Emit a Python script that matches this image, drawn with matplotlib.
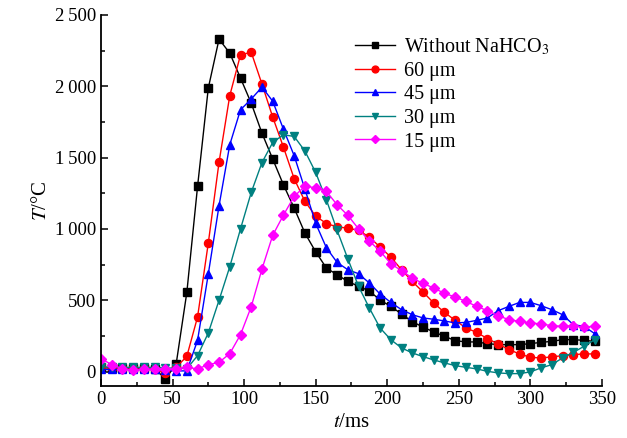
import matplotlib
matplotlib.use("Agg")
import matplotlib.pyplot as plt
import numpy as np
from matplotlib.ticker import MultipleLocator, FuncFormatter

plt.rcParams['font.family'] = ['Liberation Serif', 'DejaVu Serif']
plt.rcParams['mathtext.fontset'] = 'stix'

# time axis, ms (sampled every 7.5 ms)
t_ms = np.arange(47) * 7.5

T_none = [30, 25, 25, 25, 25, 20, -50, 50, 555, 1298, 1987, 2330, 2232, 2057, 1881, 1671,
          1490, 1309, 1146, 971, 840, 726, 679, 632, 598, 565, 502, 457, 404, 350, 312,
          278, 248, 217, 208, 208, 196, 189, 189, 189, 196, 205, 212, 224, 224, 219, 212]
T_60 = [30, 25, 25, 25, 25, 20, -10, 30, 107, 383, 901, 1467, 1934, 2220, 2238, 2015,
        1784, 1573, 1352, 1193, 1090, 1038, 1014, 1006, 990, 943, 873, 803, 714, 632, 558,
        481, 415, 359, 306, 275, 231, 194, 154, 124, 100, 96, 103, 112, 119, 124, 124]
T_45 = [15, 15, 15, 15, 15, 15, 10, 5, 5, 219, 684, 1162, 1590, 1835, 1910, 1994,
        1895, 1699, 1513, 1279, 1040, 868, 765, 714, 686, 621, 544, 485, 434, 399, 376,
        367, 355, 341, 345, 359, 376, 427, 457, 485, 485, 462, 434, 399, 329, 317, 266]
T_30 = [35, 30, 30, 30, 30, 30, 25, 25, 20, 112, 271, 500, 735, 1000, 1256, 1465,
        1606, 1660, 1648, 1546, 1396, 1204, 990, 790, 597, 446, 306, 224, 166, 131, 105,
        82, 61, 42, 30, 19, 2, -9, -14, -14, -2, 26, 49, 96, 135, 177, 224]
T_15 = [91, 49, 19, 10, 15, 15, 15, 19, 30, 19, 49, 65, 126, 259, 455, 719,
        955, 1097, 1228, 1300, 1288, 1263, 1169, 1095, 1000, 915, 845, 756, 707, 656, 618,
        586, 548, 523, 492, 457, 427, 392, 364, 352, 341, 334, 322, 317, 322, 313, 317]

series = [
    (T_none, 'Without NaHCO$_3$', 'black', 's'),
    (T_60, '60 μm', '#ff0000', 'o'),
    (T_45, '45 μm', '#0000ff', '^'),
    (T_30, '30 μm', '#008080', 'v'),
    (T_15, '15 μm', '#ff00ff', 'D'),
]

fig = plt.figure(figsize=(6.27, 4.38), dpi=100)
ax = fig.add_axes([0.161, 0.119, 0.799, 0.847])

for vals, lab, col, mk in series:
    ms = 5.0 if mk == 'D' else 5.8
    ax.plot(t_ms, vals, color=col, marker=mk, markersize=ms, linewidth=1.0, label=lab)

ax.set_xlim(0, 350)
ax.set_ylim(-100, 2500)
ax.xaxis.set_major_locator(MultipleLocator(50))
ax.xaxis.set_minor_locator(MultipleLocator(25))
ax.yaxis.set_major_locator(MultipleLocator(500))
ax.yaxis.set_minor_locator(MultipleLocator(250))
ax.yaxis.set_major_formatter(FuncFormatter(lambda v, p: f'{int(v):,}'.replace(',', '\u2009')))

ax.spines['top'].set_visible(False)
ax.spines['right'].set_visible(False)
ax.spines['left'].set_linewidth(1.3)
ax.spines['bottom'].set_linewidth(1.3)
ax.tick_params(which='both', direction='in', labelsize=13.5, width=1.1)
ax.tick_params(which='major', length=5)
ax.tick_params(which='minor', length=3)

ax.set_xlabel('$t$/ms', fontsize=15, labelpad=4)
ax.set_ylabel('$T$/°C', fontsize=15, labelpad=3)

leg = ax.legend(loc='upper left', bbox_to_anchor=(0.47, 0.99), frameon=False, fontsize=14.5,
                handlelength=2.0, labelspacing=0.22, markerscale=0.85, handletextpad=0.45)

fig.savefig('out.png', dpi=100)
